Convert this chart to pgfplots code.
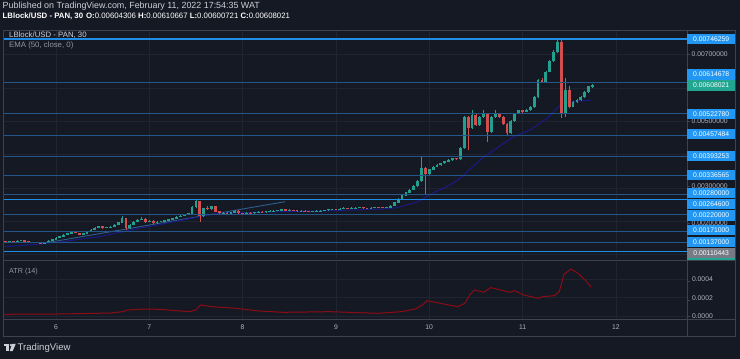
\documentclass[border=0pt]{standalone}
\usepackage{fontspec}
\setmainfont{Liberation Sans}
\usepackage{pgfplots}
\pgfplotsset{compat=1.18}
\usepackage{pgfplotstable}

\definecolor{bgc}{RGB}{21,25,36}
\definecolor{gridc}{RGB}{32,36,48}
\definecolor{bordc}{RGB}{62,66,78}
\definecolor{lvdim}{RGB}{36,86,136}
\definecolor{lvbright}{RGB}{33,140,230}
\definecolor{upc}{RGB}{36,158,143}
\definecolor{dnc}{RGB}{210,78,78}
\definecolor{emac}{RGB}{26,26,135}
\definecolor{trendc}{RGB}{45,95,140}
\definecolor{atrc}{RGB}{140,12,22}
\definecolor{lblue}{RGB}{33,150,243}
\definecolor{lteal}{RGB}{34,166,146}
\definecolor{lgray}{RGB}{120,123,134}
\definecolor{txtc}{RGB}{178,181,190}
\definecolor{hdrc}{RGB}{205,207,214}

\pgfplotstableread{
h o hi lo c
11 1.397e-3 1.420e-3 1.360e-3 1.382e-3
12 1.382e-3 1.420e-3 1.360e-3 1.397e-3
13 1.397e-3 1.410e-3 1.360e-3 1.382e-3
14 1.382e-3 1.440e-3 1.370e-3 1.412e-3
15 1.412e-3 1.450e-3 1.400e-3 1.427e-3
16 1.427e-3 1.440e-3 1.380e-3 1.397e-3
17 1.397e-3 1.410e-3 1.370e-3 1.382e-3
18 1.382e-3 1.390e-3 1.350e-3 1.367e-3
19 1.367e-3 1.380e-3 1.340e-3 1.352e-3
20 1.352e-3 1.360e-3 1.320e-3 1.337e-3
21 1.337e-3 1.370e-3 1.320e-3 1.352e-3
22 1.352e-3 1.430e-3 1.340e-3 1.412e-3
23 1.412e-3 1.480e-3 1.400e-3 1.457e-3
24 1.457e-3 1.520e-3 1.440e-3 1.502e-3
25 1.502e-3 1.570e-3 1.490e-3 1.547e-3
26 1.547e-3 1.610e-3 1.530e-3 1.592e-3
27 1.592e-3 1.660e-3 1.580e-3 1.637e-3
28 1.637e-3 1.700e-3 1.620e-3 1.682e-3
29 1.682e-3 1.700e-3 1.640e-3 1.652e-3
30 1.652e-3 1.660e-3 1.590e-3 1.607e-3
31 1.607e-3 1.660e-3 1.590e-3 1.637e-3
32 1.637e-3 1.700e-3 1.620e-3 1.682e-3
33 1.682e-3 1.760e-3 1.670e-3 1.742e-3
34 1.742e-3 1.820e-3 1.730e-3 1.801e-3
35 1.801e-3 1.870e-3 1.790e-3 1.846e-3
36 1.846e-3 1.860e-3 1.780e-3 1.801e-3
37 1.801e-3 1.840e-3 1.790e-3 1.816e-3
38 1.816e-3 1.850e-3 1.800e-3 1.831e-3
39 1.831e-3 1.910e-3 1.820e-3 1.891e-3
40 1.891e-3 1.990e-3 1.880e-3 1.966e-3
41 1.966e-3 2.170e-3 1.950e-3 2.086e-3
42 2.086e-3 2.100e-3 1.740e-3 1.801e-3
43 1.801e-3 1.910e-3 1.780e-3 1.891e-3
44 1.891e-3 2.000e-3 1.880e-3 1.981e-3
45 1.981e-3 2.060e-3 1.970e-3 2.041e-3
46 2.041e-3 2.130e-3 2.030e-3 2.071e-3
47 2.071e-3 2.090e-3 1.960e-3 1.981e-3
48 1.981e-3 2.030e-3 1.970e-3 2.011e-3
49 2.011e-3 2.030e-3 1.920e-3 1.942e-3
50 1.942e-3 2.000e-3 1.930e-3 1.981e-3
51 1.981e-3 2.020e-3 1.970e-3 1.996e-3
52 1.996e-3 2.050e-3 1.980e-3 2.026e-3
53 2.026e-3 2.080e-3 2.010e-3 2.056e-3
54 2.056e-3 2.110e-3 2.040e-3 2.086e-3
55 2.086e-3 2.150e-3 2.070e-3 2.131e-3
56 2.131e-3 2.180e-3 2.120e-3 2.161e-3
57 2.161e-3 2.210e-3 2.150e-3 2.191e-3
58 2.191e-3 2.260e-3 2.180e-3 2.236e-3
59 2.236e-3 2.460e-3 2.220e-3 2.430e-3
60 2.430e-3 2.640e-3 2.410e-3 2.595e-3
61 2.595e-3 2.620e-3 1.990e-3 2.161e-3
62 2.161e-3 2.410e-3 2.140e-3 2.385e-3
63 2.385e-3 2.450e-3 2.350e-3 2.370e-3
64 2.370e-3 2.475e-3 2.350e-3 2.445e-3
65 2.445e-3 2.460e-3 2.270e-3 2.296e-3
66 2.296e-3 2.310e-3 2.220e-3 2.242e-3
67 2.242e-3 2.270e-3 2.230e-3 2.251e-3
68 2.251e-3 2.270e-3 2.220e-3 2.236e-3
69 2.236e-3 2.280e-3 2.220e-3 2.266e-3
70 2.266e-3 2.340e-3 2.250e-3 2.320e-3
71 2.320e-3 2.340e-3 2.230e-3 2.251e-3
72 2.251e-3 2.260e-3 2.220e-3 2.236e-3
73 2.236e-3 2.270e-3 2.220e-3 2.251e-3
74 2.251e-3 2.270e-3 2.230e-3 2.242e-3
75 2.242e-3 2.280e-3 2.230e-3 2.266e-3
76 2.266e-3 2.300e-3 2.250e-3 2.281e-3
77 2.281e-3 2.300e-3 2.260e-3 2.272e-3
78 2.272e-3 2.310e-3 2.260e-3 2.296e-3
79 2.296e-3 2.330e-3 2.280e-3 2.311e-3
80 2.311e-3 2.340e-3 2.300e-3 2.320e-3
81 2.320e-3 2.350e-3 2.300e-3 2.326e-3
82 2.326e-3 2.385e-3 2.310e-3 2.355e-3
83 2.355e-3 2.370e-3 2.310e-3 2.326e-3
84 2.326e-3 2.360e-3 2.310e-3 2.341e-3
85 2.341e-3 2.350e-3 2.310e-3 2.326e-3
86 2.326e-3 2.340e-3 2.290e-3 2.311e-3
87 2.311e-3 2.330e-3 2.300e-3 2.317e-3
88 2.317e-3 2.330e-3 2.280e-3 2.296e-3
89 2.296e-3 2.310e-3 2.270e-3 2.287e-3
90 2.287e-3 2.320e-3 2.270e-3 2.302e-3
91 2.302e-3 2.330e-3 2.290e-3 2.311e-3
92 2.311e-3 2.340e-3 2.300e-3 2.320e-3
93 2.320e-3 2.350e-3 2.310e-3 2.332e-3
94 2.332e-3 2.370e-3 2.320e-3 2.355e-3
95 2.355e-3 2.380e-3 2.340e-3 2.361e-3
96 2.361e-3 2.380e-3 2.330e-3 2.349e-3
97 2.349e-3 2.390e-3 2.340e-3 2.370e-3
98 2.370e-3 2.420e-3 2.360e-3 2.392e-3
99 2.392e-3 2.410e-3 2.370e-3 2.385e-3
100 2.385e-3 2.420e-3 2.370e-3 2.400e-3
101 2.400e-3 2.430e-3 2.390e-3 2.409e-3
102 2.409e-3 2.430e-3 2.400e-3 2.415e-3
103 2.415e-3 2.440e-3 2.380e-3 2.392e-3
104 2.392e-3 2.410e-3 2.370e-3 2.385e-3
105 2.385e-3 2.420e-3 2.370e-3 2.406e-3
106 2.406e-3 2.440e-3 2.400e-3 2.421e-3
107 2.421e-3 2.440e-3 2.400e-3 2.415e-3
108 2.415e-3 2.430e-3 2.390e-3 2.406e-3
109 2.406e-3 2.430e-3 2.390e-3 2.415e-3
110 2.415e-3 2.480e-3 2.400e-3 2.460e-3
111 2.460e-3 2.590e-3 2.450e-3 2.565e-3
112 2.565e-3 2.690e-3 2.550e-3 2.670e-3
113 2.670e-3 2.800e-3 2.660e-3 2.775e-3
114 2.775e-3 2.890e-3 2.760e-3 2.865e-3
115 2.865e-3 2.960e-3 2.850e-3 2.940e-3
116 2.940e-3 3.080e-3 2.930e-3 3.059e-3
117 3.059e-3 3.230e-3 3.040e-3 3.209e-3
118 3.209e-3 3.928e-3 3.190e-3 3.598e-3
119 3.598e-3 3.620e-3 2.790e-3 3.419e-3
120 3.419e-3 3.580e-3 3.400e-3 3.554e-3
121 3.554e-3 3.660e-3 3.540e-3 3.637e-3
122 3.637e-3 3.710e-3 3.620e-3 3.688e-3
123 3.688e-3 3.760e-3 3.670e-3 3.739e-3
124 3.739e-3 3.820e-3 3.720e-3 3.793e-3
125 3.793e-3 3.860e-3 3.780e-3 3.838e-3
126 3.838e-3 3.910e-3 3.820e-3 3.889e-3
127 3.889e-3 3.910e-3 3.850e-3 3.868e-3
128 3.868e-3 4.220e-3 3.850e-3 4.197e-3
129 4.197e-3 5.160e-3 4.180e-3 5.126e-3
130 5.126e-3 5.150e-3 4.138e-3 4.796e-3
131 4.796e-3 5.336e-3 4.770e-3 5.186e-3
132 5.186e-3 5.210e-3 4.860e-3 4.886e-3
133 4.886e-3 5.150e-3 4.860e-3 5.126e-3
134 5.126e-3 5.336e-3 5.100e-3 5.237e-3
135 5.237e-3 5.260e-3 4.386e-3 4.686e-3
136 4.686e-3 5.150e-3 4.660e-3 5.126e-3
137 5.126e-3 5.336e-3 5.100e-3 5.237e-3
138 5.237e-3 5.260e-3 5.100e-3 5.126e-3
139 5.126e-3 5.150e-3 4.890e-3 4.916e-3
140 4.916e-3 4.940e-3 4.587e-3 4.638e-3
141 4.638e-3 5.030e-3 4.610e-3 5.006e-3
142 5.006e-3 5.260e-3 4.980e-3 5.237e-3
143 5.237e-3 5.350e-3 5.210e-3 5.321e-3
144 5.321e-3 5.350e-3 5.260e-3 5.291e-3
145 5.291e-3 5.360e-3 5.270e-3 5.336e-3
146 5.336e-3 5.460e-3 5.310e-3 5.434e-3
147 5.434e-3 5.750e-3 5.410e-3 5.725e-3
148 5.725e-3 6.260e-3 5.700e-3 6.234e-3
149 6.234e-3 6.294e-3 6.150e-3 6.174e-3
150 6.174e-3 6.510e-3 6.150e-3 6.483e-3
151 6.483e-3 6.830e-3 6.460e-3 6.803e-3
152 6.803e-3 7.130e-3 6.780e-3 7.073e-3
153 7.073e-3 7.462e-3 7.050e-3 7.372e-3
154 7.372e-3 7.462e-3 5.096e-3 5.246e-3
155 5.246e-3 6.294e-3 5.126e-3 5.934e-3
156 5.934e-3 6.054e-3 5.400e-3 5.434e-3
157 5.434e-3 5.610e-3 5.425e-3 5.584e-3
158 5.584e-3 5.660e-3 5.560e-3 5.635e-3
159 5.635e-3 5.750e-3 5.610e-3 5.725e-3
160 5.725e-3 5.900e-3 5.700e-3 5.875e-3
161 5.875e-3 6.060e-3 5.850e-3 6.043e-3
162 6.043e-3 6.107e-3 6.007e-3 6.080e-3
}\candles

\pgfplotsset{
  wickup/.style={forget plot, draw=upc, line width=0.6pt,
    quiver={u=0, v={\thisrow{hi}-\thisrow{lo}}},
    restrict expr to domain={\thisrow{c}>=\thisrow{o}}{1:1}},
  wickdn/.style={forget plot, draw=dnc, line width=0.6pt,
    quiver={u=0, v={\thisrow{hi}-\thisrow{lo}}},
    restrict expr to domain={\thisrow{c}<\thisrow{o}}{1:1}},
  bodyup/.style={forget plot, draw=upc, line width=2.8pt,
    quiver={u=0, v={\thisrow{c}-\thisrow{o}+0.000010}},
    restrict expr to domain={\thisrow{c}>=\thisrow{o}}{1:1}},
  bodydn/.style={forget plot, draw=dnc, line width=2.8pt,
    quiver={u=0, v={\thisrow{o}-\thisrow{c}+0.000010}},
    restrict expr to domain={\thisrow{c}<\thisrow{o}}{1:1}},
}

\begin{document}
\begin{tikzpicture}
\fill[bgc] (0pt,0pt) rectangle (740pt,359pt);

% ---------------- main price pane ----------------
\begin{axis}[at={(3pt,100pt)}, anchor=south west, scale only axis,
  width=684pt, height=229pt,
  xmin=10.37, xmax=186.3, ymin=0.873e-3, ymax=7.7315e-3,
  axis line style={draw=none},
  xtick={24,48,72,96,120,144,168},
  ytick={0.001,0.002,0.003,0.004,0.005,0.006,0.007},
  xticklabels={}, yticklabels={},
  xticklabel style={inner sep=0pt}, yticklabel style={inner sep=0pt},
  tick style={draw=none}, scaled ticks=false,
  grid=major, grid style={gridc, line width=0.6pt},
  clip=true]

% trend line
\addplot[trendc, line width=0.9pt, forget plot] coordinates {(21.17,1.352e-3) (82.91,2.589e-3)};
% EMA 50
\addplot[emac, line width=1pt, forget plot] coordinates {
(10.88,1.241e-3) (19.88,1.322e-3) (25.03,1.382e-3) (35.32,1.547e-3) (43.81,1.757e-3)
(50.75,1.906e-3) (61.04,2.140e-3) (65.41,2.242e-3) (78.28,2.281e-3) (95.25,2.320e-3)
(108.11,2.370e-3) (111.72,2.409e-3) (116.86,2.580e-3) (120.98,2.850e-3) (125.35,3.089e-3)
(127.92,3.290e-3) (133.58,3.889e-3) (136.93,4.158e-3) (141.56,4.527e-3) (145.93,4.737e-3)
(150.31,5.087e-3) (153.65,5.485e-3) (157.0,5.584e-3) (161.63,5.635e-3)};

% candles
\addplot[wickup] table[x=h, y=lo] {\candles};
\addplot[wickdn] table[x=h, y=lo] {\candles};
\addplot[bodyup] table[x=h, y expr={\thisrow{o}-0.000005}] {\candles};
\addplot[bodydn] table[x=h, y expr={\thisrow{c}-0.000005}] {\candles};

% horizontal levels
\addplot[lvbright, line width=1.3pt, forget plot] coordinates {(10.37,7.46259e-3) (186.3,7.46259e-3)};
\addplot[lvdim, line width=1pt, forget plot] coordinates {(10.37,6.14678e-3) (186.3,6.14678e-3)};
\addplot[lvdim, line width=1pt, forget plot] coordinates {(10.37,5.22780e-3) (186.3,5.22780e-3)};
\addplot[lvdim, line width=1pt, forget plot] coordinates {(10.37,4.57484e-3) (186.3,4.57484e-3)};
\addplot[lvdim, line width=1pt, forget plot] coordinates {(10.37,3.93253e-3) (186.3,3.93253e-3)};
\addplot[lvdim, line width=1pt, forget plot] coordinates {(10.37,3.36565e-3) (186.3,3.36565e-3)};
\addplot[lvdim, line width=1pt, forget plot] coordinates {(10.37,2.80000e-3) (186.3,2.80000e-3)};
\addplot[lvbright, line width=1.3pt, forget plot] coordinates {(10.37,2.64600e-3) (186.3,2.64600e-3)};
\addplot[lvdim, line width=1pt, forget plot] coordinates {(10.37,2.20000e-3) (186.3,2.20000e-3)};
\addplot[lvdim, line width=1pt, forget plot] coordinates {(10.37,1.71000e-3) (186.3,1.71000e-3)};
\addplot[lvdim, line width=1pt, forget plot] coordinates {(10.37,1.37000e-3) (186.3,1.37000e-3)};
\addplot[lvbright, line width=1.3pt, forget plot] coordinates {(10.37,1.10443e-3) (186.3,1.10443e-3)};
\end{axis}

% ---------------- ATR pane ----------------
\begin{axis}[at={(3pt,39.7pt)}, anchor=south west, scale only axis,
  width=684pt, height=57.3pt,
  xmin=10.37, xmax=186.3, ymin=-0.0000324, ymax=0.000587,
  axis line style={draw=none},
  xtick={24,48,72,96,120,144,168}, xticklabels={6,7,8,9,10,11,12},
  ytick={0,0.0002,0.0004}, yticklabels={0.0000,0.0002,0.0004},
  yticklabel pos=right,
  tick style={draw=none}, scaled ticks=false,
  ticklabel style={font=\fontsize{6.8}{7}\selectfont, text=txtc},
  xticklabel style={yshift=-1.5pt},
  yticklabel style={xshift=1.5pt},
  grid=major, grid style={gridc, line width=0.6pt},
  clip=true]
\addplot[atrc, line width=1pt] coordinates {
(10.8,0.0000216) (25.0,0.000025) (37.9,0.000035) (41.16,0.00005) (42.37,0.000068)
(47.23,0.000079) (50.88,0.000075) (58.16,0.00005) (59.96,0.000068) (61.20,0.000122)
(64.23,0.000104) (70.30,0.000086) (76.37,0.000057) (82.44,0.000043) (94.56,0.00005)
(106.70,0.000032) (112.77,0.00005) (116.42,0.000079) (118.25,0.000122) (119.43,0.000169)
(123.70,0.000133) (127.35,0.000104) (129.15,0.00014) (130.39,0.00023) (131.60,0.000284)
(134.02,0.00026) (135.84,0.00031) (140.70,0.00026) (141.92,0.000277) (144.33,0.00023)
(147.98,0.000195) (149.19,0.000212) (152.23,0.000223) (153.44,0.000266) (154.67,0.000454)
(156.47,0.000511) (158.27,0.000465) (160.13,0.00039) (161.70,0.000313)};
\end{axis}

\begin{scope}[x=1pt,y=1pt]
% ---------------- frames ----------------
\draw[bordc, line width=0.8pt] (3,23) rectangle (735,329);
\draw[bordc, line width=0.8pt] (687,23) -- (687,329);
\draw[bordc, line width=0.8pt] (3,98.5) -- (735,98.5);
\draw[bordc, line width=0.8pt] (3,39.5) -- (735,39.5);
\foreach \yy in {305,237.5,172.5,136,77.6,59,42.7} \draw[bordc] (687,\yy) -- (690,\yy);

% ---------------- price scale labels ----------------
\tikzset{plab/.style={anchor=west, inner xsep=2.2pt, inner ysep=0pt, minimum height=10.3pt,
  minimum width=48pt, font=\fontsize{6.8}{7}\selectfont, text=white},
  glab/.style={anchor=west, inner sep=0pt, font=\fontsize{6.8}{7}\selectfont, text=txtc}}
\node[glab] at (691.5,305) {0.00700000};
\node[glab] at (691.5,237.5) {0.00500000};
\node[glab] at (691.5,172.5) {0.00300000};
\node[glab] at (691.5,136) {0.00200000};
\node[plab, fill=lblue] at (687,320) {0.00746259};
\node[plab, fill=lblue] at (687,284.5) {0.00614678};
\node[plab, fill=lteal] at (687,273.5) {0.00608021};
\node[plab, fill=lblue] at (687,245) {0.00522780};
\node[plab, fill=lblue] at (687,225) {0.00457484};
\node[plab, fill=lblue] at (687,203) {0.00393253};
\node[plab, fill=lblue] at (687,184) {0.00336565};
\node[plab, fill=lblue] at (687,165.7) {0.00280000};
\node[plab, fill=lblue] at (687,154.8) {0.00264600};
\node[plab, fill=lblue] at (687,143.5) {0.00220000};
\node[plab, fill=lblue] at (687,129) {0.00171000};
\node[plab, fill=lblue] at (687,117.3) {0.00137000};
\node[plab, fill=lgray] at (687,106.3) {0.00110443};
\fill[lteal] (687,98.9) rectangle (735,100.8);

% ---------------- texts ----------------
\node[anchor=west, inner sep=0pt, text=hdrc, font=\fontsize{8.9}{9}\selectfont] at (2.5,352.3)
  {Published on TradingView.com, February 11, 2022 17:54:35 WAT};
\node[anchor=west, inner sep=0pt, text=white, font=\fontsize{7.8}{9}\selectfont] at (2.5,342.3)
  {\textbf{LBlock/USD - PAN, 30}\hspace{3pt}\textbf{O:}0.00604306 \textbf{H:}0.00610667 \textbf{L:}0.00600721 \textbf{C:}0.00608021};
\node[anchor=west, inner sep=0pt, text=hdrc, font=\fontsize{7.8}{9}\selectfont] at (9,324.2) {LBlock/USD - PAN, 30};
\node[anchor=west, inner sep=0pt, text=txtc!80!bgc, font=\fontsize{7.8}{9}\selectfont] at (9,313.3) {EMA (50, close, 0)};
\node[anchor=west, inner sep=0pt, text=txtc!80!bgc, font=\fontsize{7.2}{9}\selectfont] at (9,87) {ATR (14)};

% TradingView logo
\fill[hdrc] (3.5,13.2) rectangle (9.2,15.2);
\fill[hdrc] (6.2,7.8) rectangle (9.2,15.2);
\fill[hdrc] (10.9,13.9) circle (1.3);
\fill[hdrc] (12.2,15.2) -- (15.8,15.2) -- (12.6,7.8) -- (9.6,7.8) -- cycle;
\node[anchor=west, inner sep=0pt, text=hdrc, font=\fontsize{9.6}{10}\selectfont] at (17.5,11.3) {TradingView};
\end{scope}
\end{tikzpicture}
\end{document}
